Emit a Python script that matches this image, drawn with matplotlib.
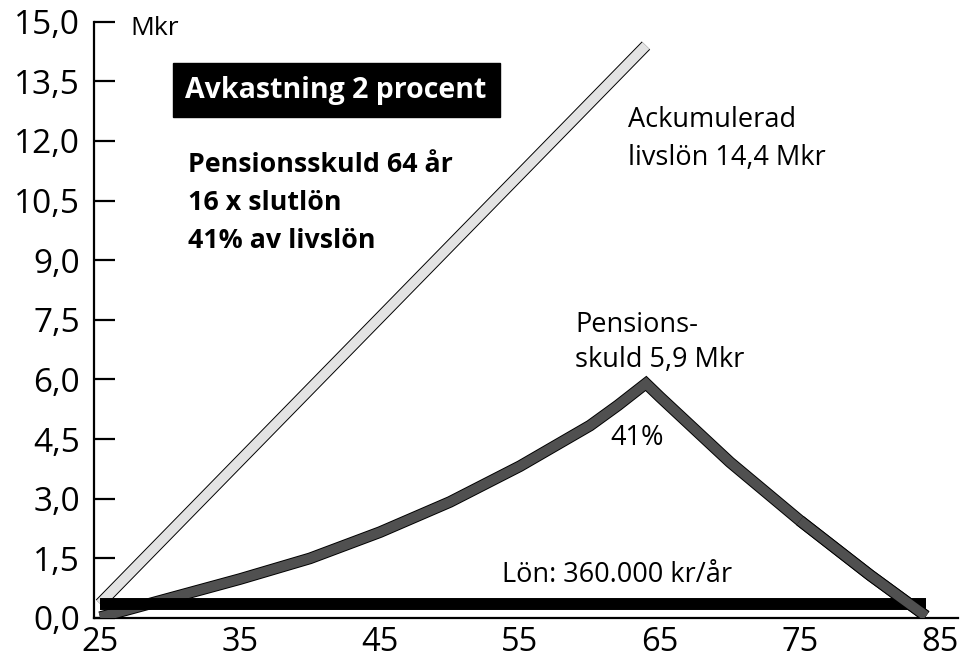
import matplotlib
matplotlib.use("Agg")
import matplotlib.pyplot as plt
import matplotlib.patheffects as pe
from matplotlib.ticker import FixedLocator, FuncFormatter

plt.rcParams['font.family'] = ['Open Sans', 'DejaVu Sans']

# ---- data (Mkr) ----
acc_ages = [25, 64]
acc_vals = [0.36, 14.4]          # ackumulerad livslön

debt_ages = [25, 30, 35, 40, 45, 50, 55, 60, 62, 64, 65, 70, 75, 80, 84]
debt_vals = [0.02, 0.5, 0.98, 1.5, 2.16, 2.92, 3.82, 4.84, 5.35, 5.9, 5.56, 3.92, 2.45, 1.08, 0.05]

salary_ages = [25, 84]
salary_vals = [0.36, 0.36]        # 360.000 kr/år

y_ticks = [0, 1.5, 3, 4.5, 6, 7.5, 9, 10.5, 12, 13.5, 15]
x_ticks = [25, 35, 45, 55, 65, 75, 85]

W, H = 961, 661
fig = plt.figure(figsize=(W / 100, H / 100), dpi=100)
ax = fig.add_axes([94 / W, 43 / H, 864 / W, 596.3 / H])
ax.set_xlim(24.57, 86.29)
ax.set_ylim(0, 15)

# accumulated salary (light gray band with black outline)
ax.plot(acc_ages, acc_vals, color='#e3e3e3', lw=7.0, solid_capstyle='butt', zorder=2,
        path_effects=[pe.Stroke(linewidth=8.4, foreground='black'), pe.Normal()])

# pension debt (dark gray band with black outline)
debt_fx = [pe.Stroke(linewidth=8.4, foreground='black', joinstyle='miter'), pe.Normal()]
ax.plot(debt_ages, debt_vals, color='#505050', lw=7.0, solid_capstyle='butt',
        solid_joinstyle='miter', zorder=3, path_effects=debt_fx)

# salary (thick black bar)
ax.plot(salary_ages, salary_vals, color='black', lw=8.6, solid_capstyle='butt', zorder=4)

# tail of pension debt drawn above salary bar
i0 = debt_ages.index(75)
ax.plot(debt_ages[i0:], debt_vals[i0:], color='#505050', lw=7.0, solid_capstyle='butt',
        solid_joinstyle='miter', zorder=5, path_effects=debt_fx)

# axes styling
for s in ['top', 'right']:
    ax.spines[s].set_visible(False)
ax.spines['left'].set_linewidth(1.6)
ax.spines['bottom'].set_linewidth(1.6)
ax.yaxis.set_major_locator(FixedLocator(y_ticks))
ax.xaxis.set_major_locator(FixedLocator(x_ticks))
ax.yaxis.set_major_formatter(FuncFormatter(lambda v, p: f"{v:.1f}".replace('.', ',')))
ax.xaxis.set_major_formatter(FuncFormatter(lambda v, p: f"{int(v)}"))
ax.tick_params(axis='y', direction='in', length=15, width=1.6, pad=10, labelsize=24)
ax.tick_params(axis='x', length=0, pad=6, labelsize=23.5)

# texts
ax.text(27.14, 14.67, 'Mkr', fontsize=19, va='baseline', ha='left')
ax.text(41.86, 13.28, 'Avkastning 2 procent', fontsize=20.5, fontweight='bold', color='white',
        ha='center', va='center',
        bbox=dict(boxstyle='square,pad=0.45', fc='black', ec='black'))
ax.text(31.29, 11.22, 'Pensionsskuld 64 år', fontsize=19.3, fontweight='bold', va='baseline')
ax.text(31.29, 10.26, '16 x slutlön', fontsize=19.3, fontweight='bold', va='baseline')
ax.text(31.29, 9.31, '41% av livslön', fontsize=19.3, fontweight='bold', va='baseline')

ax.text(62.71, 12.35, 'Ackumulerad', fontsize=19.5, va='baseline')
ax.text(62.71, 11.40, 'livslön 14,4 Mkr', fontsize=19.5, va='baseline')
ax.text(58.93, 7.19, 'Pensions-', fontsize=19.5, va='baseline')
ax.text(58.93, 6.31, 'skuld 5,9 Mkr', fontsize=19.5, va='baseline')
ax.text(61.43, 4.35, '41%', fontsize=19.5, va='baseline')
ax.text(53.71, 0.906, 'Lön: 360.000 kr/år', fontsize=19.5, va='baseline')

fig.savefig('out.png', dpi=100)
